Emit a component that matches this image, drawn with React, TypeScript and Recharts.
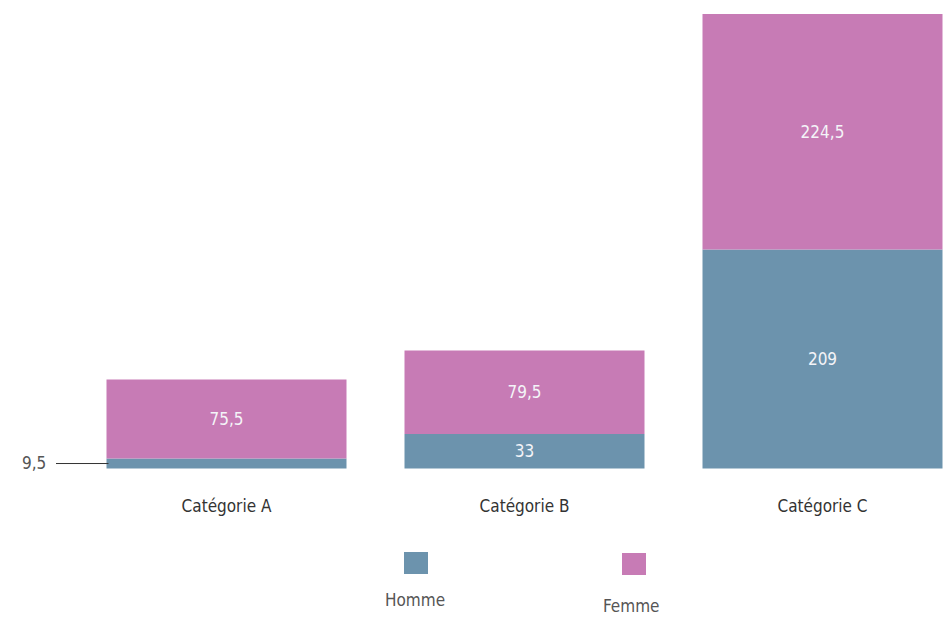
import { BarChart, Bar, XAxis, YAxis, LabelList } from 'recharts';

const categories = ['Catégorie A', 'Catégorie B', 'Catégorie C'];
const homme = [9.5, 33, 209];
const femme = [75.5, 79.5, 224.5];
const seriesNames = ['Homme', 'Femme'];

const BLUE = '#6c93ad';
const PINK = '#c77bb5';
const FONT = "'DejaVu Sans Condensed', 'Liberation Sans Narrow', sans-serif";

const data = categories.map((c, i) => ({ name: c, homme: homme[i], femme: femme[i] }));

const fmt = (v: number) => String(v).replace('.', ',');

function ValueLabel(props: any) {
  const { x, y, width, height, value, index, outside } = props;
  if (outside && index === 0) {
    // small segment: value drawn to the left with a leader line
    const cy = y + height / 2;
    return (
      <g>
        <line x1={56} x2={x + 2} y1={cy} y2={cy} stroke="#333" strokeWidth={1} />
        <text x={22} y={cy} dy="0.35em" fill="#555" fontSize={17} fontFamily={FONT}>
          {fmt(value)}
        </text>
      </g>
    );
  }
  return (
    <text
      x={x + width / 2}
      y={y + height / 2}
      dy="0.35em"
      textAnchor="middle"
      fill="#f4f4f8"
      fontSize={17}
      fontFamily={FONT}
    >
      {fmt(value)}
    </text>
  );
}

const legendItems = [
  { label: seriesNames[0], color: BLUE, left: 404, top: 552, textLeft: 385, textTop: 590 },
  { label: seriesNames[1], color: PINK, left: 622, top: 553, textLeft: 603, textTop: 596 },
];

export default function App() {
  return (
    <div style={{ position: 'absolute', left: 0, top: 0, width: 952, height: 617, overflow: 'hidden', background: '#fff' }}>
      <BarChart
        width={980}
        height={617}
        data={data}
        margin={{ top: 14, right: 8.5, left: 77.5, bottom: 118.5 }}
      >
        <XAxis
          dataKey="name"
          axisLine={false}
          tickLine={false}
          tickMargin={25}
          tick={{ fontSize: 17, fill: '#333', fontFamily: FONT }}
          height={30}
        />
        <YAxis hide domain={[0, 'dataMax']} />
        <Bar dataKey="homme" name={seriesNames[0]} stackId="a" fill={BLUE} barSize={240} isAnimationActive={false}>
          <LabelList dataKey="homme" content={(p: any) => <ValueLabel {...p} outside />} />
        </Bar>
        <Bar dataKey="femme" name={seriesNames[1]} stackId="a" fill={PINK} barSize={240} isAnimationActive={false}>
          <LabelList dataKey="femme" content={(p: any) => <ValueLabel {...p} />} />
        </Bar>
      </BarChart>
      {legendItems.map((it) => (
        <div key={it.label}>
          <div
            style={{
              position: 'absolute', left: it.left, top: it.top,
              width: 24, height: 22, background: it.color,
            }}
          />
          <div
            style={{
              position: 'absolute', left: it.textLeft, top: it.textTop,
              fontFamily: FONT, fontSize: 17, color: '#555',
            }}
          >
            {it.label}
          </div>
        </div>
      ))}
    </div>
  );
}
